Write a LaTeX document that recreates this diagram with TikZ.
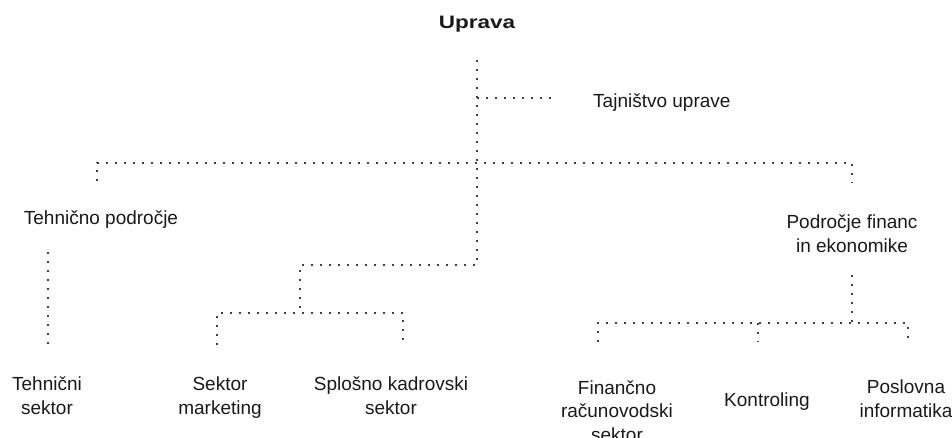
\documentclass[tikz,border=0pt]{standalone}
\usepackage{fontspec}
\setmainfont{Liberation Sans}
\begin{document}
\begin{tikzpicture}[x=1pt,y=-1pt,
  lbl/.style={font=\fontsize{19}{23.5}\selectfont, inner sep=0pt, align=center, anchor=base, text=black!90},
  dots/.style={draw=black!75, line width=1.7pt, dash pattern=on 1.7pt off 7.3pt}]
\useasboundingbox (0,0) rectangle (952,438);
% nodes (anchor base = baseline of the last line)
\node[lbl, font=\fontsize{18}{22}\selectfont\bfseries] (up) at (477,29) {\scalebox{1.25}[1]{Uprava}};
\node[lbl, anchor=base west] (taj) at (593,108) {Tajništvo uprave};
\node[lbl] (teh) at (101,225) {Tehnično področje};
\node[lbl] (fin) at (852,252) {Področje financ\\in ekonomike};
\node[lbl] (tsek) at (47,414) {Tehnični\\sektor};
\node[lbl] (mark) at (220,414) {Sektor\\marketing};
\node[lbl] (kadr) at (391,414) {Splošno kadrovski\\sektor};
\node[lbl] (fsek) at (617,441) {Finančno\\računovodski\\sektor};
\node[lbl] (kont) at (767,406) {Kontroling};
\node[lbl] (posl) at (906,417) {Poslovna\\informatika};
% junction coordinates
\coordinate (a0) at (477,60);
\coordinate (a1) at (477,265);
\coordinate (a2) at (300,265);
\coordinate (a3) at (300,313);
\coordinate (tj0) at (477,98);
\coordinate (tj1) at (553,98);
\coordinate (m0) at (97,181);
\coordinate (m1) at (97,163);
\coordinate (m2) at (852,163);
\coordinate (m3) at (852,183);
\coordinate (t0) at (48,252);
\coordinate (t1) at (48,345);
\coordinate (k0) at (217,345);
\coordinate (k1) at (217,313);
\coordinate (k2) at (403,313);
\coordinate (k3) at (403,345);
\coordinate (f0) at (852,275);
\coordinate (f1) at (852,323);
\coordinate (g0) at (598,342);
\coordinate (g1) at (598,323);
\coordinate (g2) at (908,323);
\coordinate (g3) at (908,342);
\coordinate (h0) at (758,323);
\coordinate (h1) at (758,342);
% connectors
\draw[dots] (a0) -- (a1) -- (a2) -- (a3);
\draw[dots] (tj0) -- (tj1);
\draw[dots] (m0) -- (m1) -- (m2) -- (m3);
\draw[dots] (t0) -- (t1);
\draw[dots] (k0) -- (k1) -- (k2) -- (k3);
\draw[dots] (f0) -- (f1);
\draw[dots] (g0) -- (g1) -- (g2) -- (g3);
\draw[dots] (h0) -- (h1);
\end{tikzpicture}
\end{document}
